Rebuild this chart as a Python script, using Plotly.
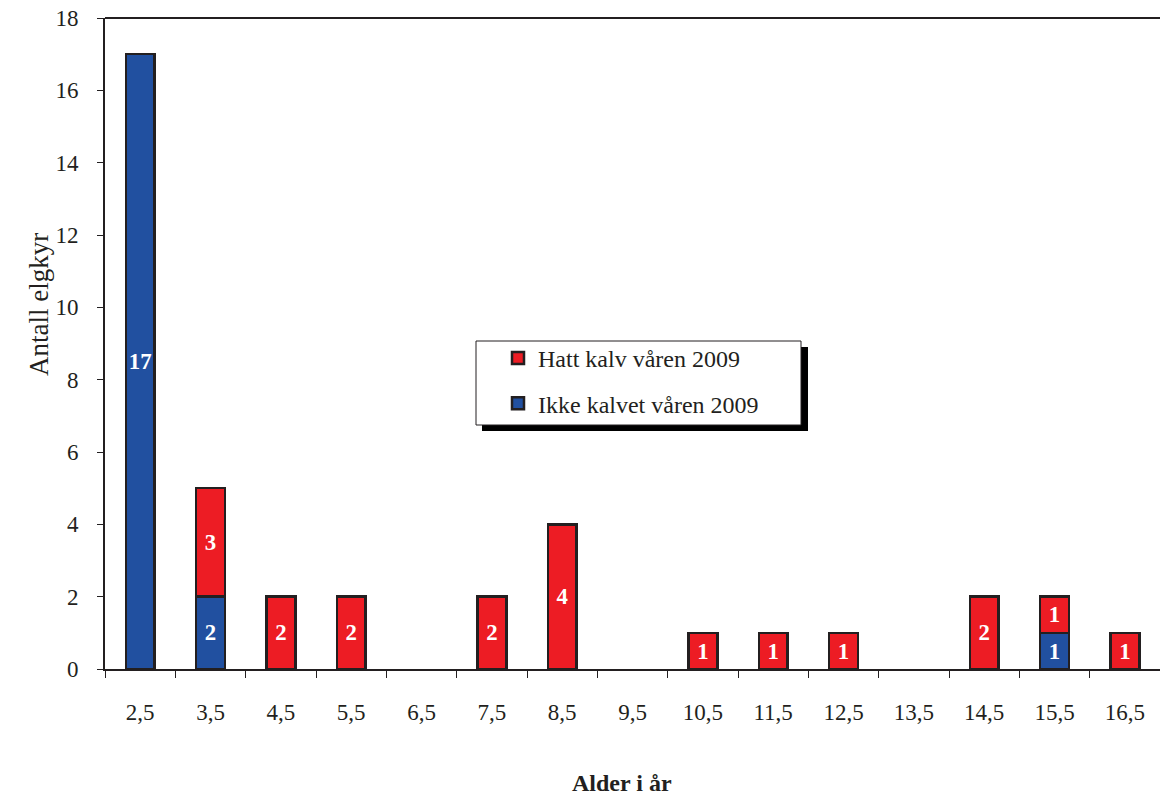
import plotly.graph_objects as go

# Alder (år) og antall elgkyr per gruppe
ages = ["2,5", "3,5", "4,5", "5,5", "6,5", "7,5", "8,5", "9,5",
        "10,5", "11,5", "12,5", "13,5", "14,5", "15,5", "16,5"]
ikke_kalvet = [17, 2, 0, 0, 0, 0, 0, 0, 0, 0, 0, 0, 0, 1, 0]
hatt_kalv = [0, 3, 2, 2, 0, 2, 4, 0, 1, 1, 1, 0, 2, 1, 1]

y_ticks = [0, 2, 4, 6, 8, 10, 12, 14, 16, 18]

FONT = "Liberation Serif"
EDGE = "#231f20"
BLUE = "#2150a0"
RED = "#ed1c24"


def heights(vals):
    # empty groups get no bar at all
    return [v if v else None for v in vals]


def labels(vals):
    return [str(v) if v else "" for v in vals]


fig = go.Figure()
fig.add_trace(go.Bar(
    x=ages, y=heights(ikke_kalvet), name="Ikke kalvet våren 2009",
    legendgroup="b", legendrank=2,
    marker=dict(color=BLUE, line=dict(color=EDGE, width=2.5)),
    text=labels(ikke_kalvet), textposition="inside", insidetextanchor="middle",
    textfont=dict(family=FONT, size=24, color="white", weight="bold"),
))
fig.add_trace(go.Bar(
    x=ages, y=heights(hatt_kalv), name="Hatt kalv våren 2009",
    legendgroup="a", legendrank=1,
    marker=dict(color=RED, line=dict(color=EDGE, width=2.5)),
    text=labels(hatt_kalv), textposition="inside", insidetextanchor="middle",
    textfont=dict(family=FONT, size=24, color="white", weight="bold"),
))


def px_x(v):
    return (v - 105) / 1055


def px_y(v):
    return (669 - v) / 651


# legend frame with drop shadow
fig.add_shape(type="rect", xref="paper", yref="paper",
              x0=px_x(482), x1=px_x(808), y0=px_y(431), y1=px_y(347),
              fillcolor="black", line=dict(width=0), layer="below")
fig.add_shape(type="rect", xref="paper", yref="paper",
              x0=px_x(476), x1=px_x(801), y0=px_y(425), y1=px_y(341),
              fillcolor="white", line=dict(color=EDGE, width=1), layer="below")

fig.add_annotation(text="Antall elgkyr", xref="paper", yref="paper",
                   x=px_x(22), y=px_y(305), textangle=-90,
                   showarrow=False, font=dict(family=FONT, size=27, color="#231f20"))
fig.add_annotation(text="<b>Alder i år</b>", xref="paper", yref="paper",
                   x=px_x(622), y=px_y(783), yanchor="middle",
                   showarrow=False, font=dict(family=FONT, size=24, color="#231f20"))

fig.update_layout(
    width=1160, height=797,
    margin=dict(l=105, r=0, t=18, b=128),
    barmode="stack", bargap=0.59,
    plot_bgcolor="white", paper_bgcolor="white",
    font=dict(family=FONT, size=23, color="#231f20"),
    uniformtext=dict(mode="show", minsize=10),
    showlegend=True,
    legend=dict(
        x=px_x(476), y=px_y(336), xanchor="left", yanchor="top",
        bgcolor="rgba(0,0,0,0)", borderwidth=0,
        traceorder="grouped", tracegroupgap=11, indentation=22,
        font=dict(family=FONT, size=24, color="#231f20"),
    ),
    xaxis=dict(
        type="category", showline=True, linecolor=EDGE, linewidth=2,
        ticks="outside", tickson="boundaries", ticklen=7, tickcolor=EDGE,
        mirror=False, ticklabelstandoff=21,
        tickfont=dict(family=FONT, size=23),
    ),
    yaxis=dict(
        range=[0, 18], tickvals=y_ticks, showline=True, linecolor=EDGE,
        linewidth=2, ticks="outside", ticklen=6, tickcolor=EDGE,
        showgrid=False, zeroline=False, ticklabelstandoff=14,
        tickfont=dict(family=FONT, size=23),
    ),
)
# top border of the plot area
fig.add_shape(type="line", xref="paper", yref="paper", x0=0, x1=1, y0=1, y1=1,
              line=dict(color=EDGE, width=2))

fig.write_html("out.html")
